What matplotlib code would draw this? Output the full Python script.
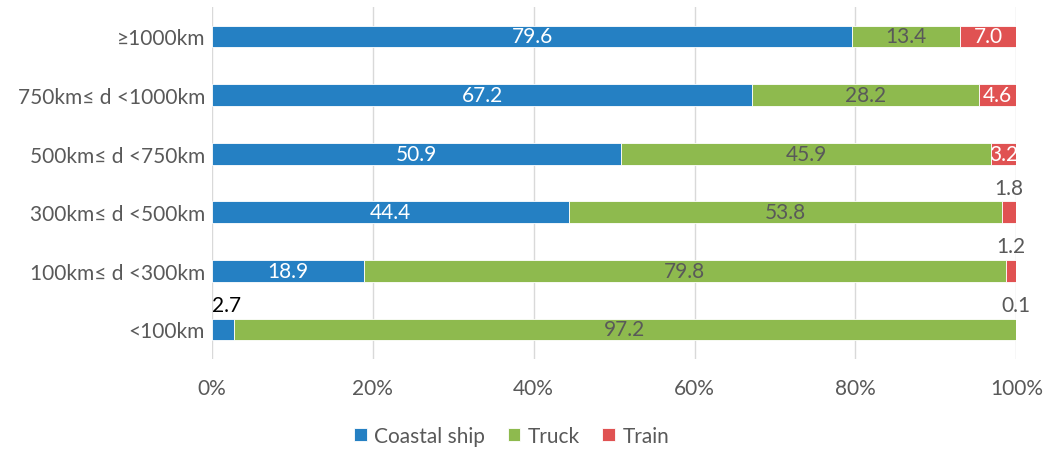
import matplotlib.pyplot as plt
from matplotlib.ticker import FuncFormatter

plt.rcParams["font.family"] = ["Lato", "DejaVu Sans"]

categories = ["<100km", "100km≤ d <300km", "300km≤ d <500km",
              "500km≤ d <750km", "750km≤ d <1000km", "≥1000km"]
coastal = [2.7, 18.9, 44.4, 50.9, 67.2, 79.6]
truck = [97.2, 79.8, 53.8, 45.9, 28.2, 13.4]
train = [0.1, 1.2, 1.8, 3.2, 4.6, 7.0]

blue = "#2580C3"
green = "#8EBA4E"
red = "#E05252"
grey = "#595959"

fig = plt.figure(figsize=(10.44, 4.52), dpi=100)
ax = fig.add_axes([0.203, 0.204, 0.7705, 0.778])

y = range(len(categories))
h = 0.37
b1 = ax.barh(y, coastal, height=h, color=blue, edgecolor="white", linewidth=0.6, label="Coastal ship")
b2 = ax.barh(y, truck, left=coastal, height=h, color=green, edgecolor="white", linewidth=0.6, label="Truck")
left3 = [c + t for c, t in zip(coastal, truck)]
b3 = ax.barh(y, train, left=left3, height=h, color=red, edgecolor="white", linewidth=0.6, label="Train")

fs = 15
for i in y:
    # coastal ship
    if coastal[i] > 5:
        ax.text(coastal[i] / 2, i, f"{coastal[i]:.1f}", ha="center", va="center",
                color="white", fontsize=fs)
    else:
        ax.text(coastal[i] / 2 + 0.5, i + 0.25, f"{coastal[i]:.1f}", ha="center", va="bottom",
                color="black", fontsize=fs)
    ax.text(coastal[i] + truck[i] / 2, i, f"{truck[i]:.1f}", ha="center", va="center",
            color=grey, fontsize=fs)
    if train[i] >= 3:
        ax.text(left3[i] + train[i] / 2, i, f"{train[i]:.1f}", ha="center", va="center",
                color="white", fontsize=fs)
    else:
        ax.text(left3[i] + train[i] / 2, i + 0.25, f"{train[i]:.1f}", ha="center",
                va="bottom", color=grey, fontsize=fs)

ax.set_xlim(0, 100)
ax.set_ylim(-0.5, len(categories) - 0.5)
ax.set_xticks(range(0, 101, 20))
ax.xaxis.set_major_formatter(FuncFormatter(lambda v, p: f"{v:.0f}%"))
ax.set_yticks(list(y))
ax.set_yticklabels(categories)
ax.tick_params(axis="both", length=0, labelsize=fs, labelcolor=grey)
ax.tick_params(axis="x", pad=14)
ax.tick_params(axis="y", pad=5)
ax.grid(axis="x", color="#D9D9D9", linewidth=1)
ax.set_axisbelow(True)
for s in ax.spines.values():
    s.set_visible(False)

leg = fig.legend(handles=[b1, b2, b3], loc="center", bbox_to_anchor=(0.49, 0.033), ncol=3,
                 frameon=False, fontsize=fs, handlelength=0.6, handleheight=0.6,
                 handletextpad=0.35, columnspacing=1.1)
for t in leg.get_texts():
    t.set_color(grey)

fig.savefig("out.png", dpi=100)
